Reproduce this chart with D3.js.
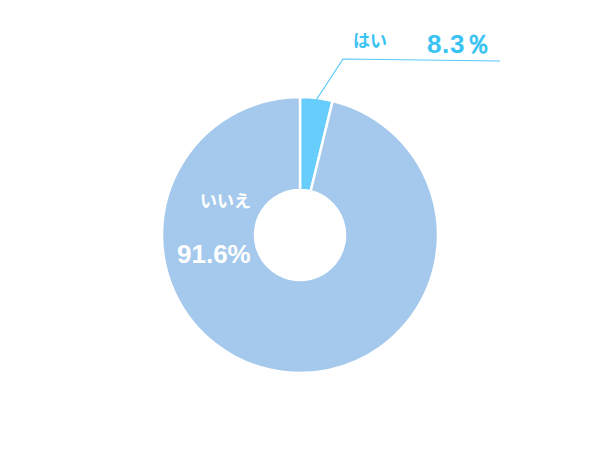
<!DOCTYPE html>
<html><head><meta charset="utf-8">
<script src="https://cdn.jsdelivr.net/npm/d3@7"></script>
<style>body{margin:0;background:#fff}svg{display:block}</style>
</head><body>
<svg id="c" width="600" height="462"></svg>
<script>
const categories = ["はい", "いいえ"];
const values = [3.8, 96.2];           // slice sizes as drawn
const labels = ["8.3％", "91.6%"];    // printed percentages
const colors = ["#66cdfc", "#a5c9ec"];

const svg = d3.select("#c");
const cx = 300, cy = 235, rOut = 138, rIn = 45;
const g = svg.append("g").attr("transform", `translate(${cx},${cy})`);

const pie = d3.pie().sort(null).value(d => d)(values);
const arc = d3.arc().innerRadius(rIn).outerRadius(rOut);

g.selectAll("path").data(pie).join("path")
  .attr("d", arc)
  .attr("fill", (d, i) => colors[i])
  .attr("stroke", "#fff").attr("stroke-width", 2.5);

// leader line for はい
const a0 = pie[0];
const mid = (a0.startAngle + a0.endAngle) / 2;
const p0 = [Math.sin(mid) * (rOut - 2) + cx, -Math.cos(mid) * (rOut - 2) + cy];
svg.append("polyline")
  .attr("points", `${p0[0]},${p0[1]} 343,59 500,61`)
  .attr("fill", "none").attr("stroke", "#55c8f5").attr("stroke-width", 1.2);

const jp = "'Noto Sans CJK JP', sans-serif";
const num = "'Liberation Sans', Arial, sans-serif";

svg.append("text").attr("x", 353).attr("y", 47)
  .attr("font-family", jp).attr("font-weight", "bold").attr("font-size", 17)
  .attr("fill", "#39c3f3").text(categories[0]);
svg.append("text").attr("x", 427).attr("y", 53)
  .attr("font-family", num).attr("font-weight", "bold").attr("font-size", 26)
  .attr("letter-spacing", 0.6)
  .attr("fill", "#39c3f3").text(labels[0]);

svg.append("text").attr("x", 200).attr("y", 207)
  .attr("font-family", jp).attr("font-weight", "bold").attr("font-size", 17)
  .attr("fill", "#fff").text(categories[1]);
svg.append("text").attr("x", 177).attr("y", 263)
  .attr("font-family", num).attr("font-weight", "bold").attr("font-size", 26)
  .attr("fill", "#fff").text(labels[1]);
</script>
</body></html>
